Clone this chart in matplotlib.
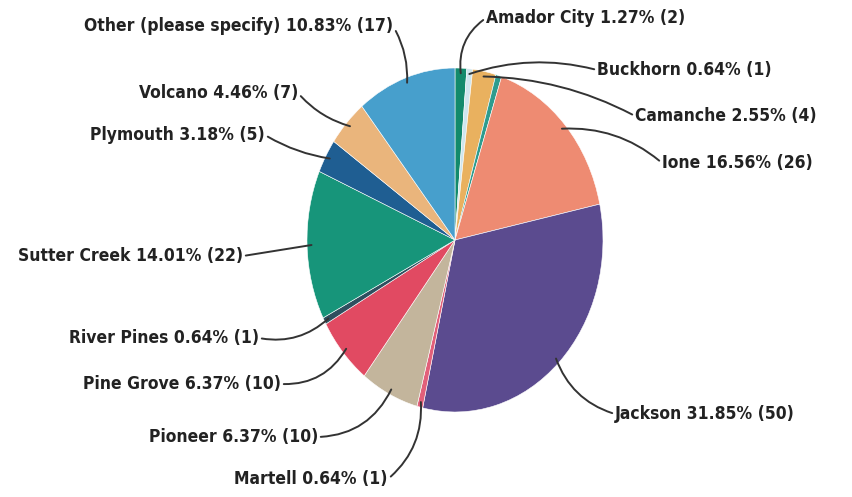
import numpy as np
import matplotlib.pyplot as plt
from matplotlib import font_manager

# data (clockwise from 12 o'clock); one unlabeled response sits between Camanche and Ione
towns = ['Amador City', 'Buckhorn', 'Camanche', '', 'Ione', 'Jackson', 'Martell',
         'Pioneer', 'Pine Grove', 'River Pines', 'Sutter Creek', 'Plymouth',
         'Volcano', 'Other (please specify)']
counts = [2, 1, 4, 1, 26, 50, 1, 10, 10, 1, 22, 5, 7, 17]
colors = ['#138a6c', '#cfe6ee', '#e9b15f', '#2e9c8e', '#ee8b72', '#5b4b8f', '#e2607a',
          '#c3b59c', '#e14a62', '#2f4f5f', '#17957a', '#1f5e92', '#eab57c', '#479fcc']

total = sum(counts)

# label layout in pixels (text anchor x, y, alignment, curve of leader)
label_pos = {
    'Amador City': (486, 18, 'left', 0.3),
    'Buckhorn': (597, 70, 'left', 0.15),
    'Camanche': (635, 116, 'left', 0.12),
    'Ione': (662, 163, 'left', 0.2),
    'Jackson': (615, 414, 'left', -0.25),
    'Martell': (388, 479, 'right', 0.25),
    'Pioneer': (318, 437, 'right', 0.3),
    'Pine Grove': (281, 384, 'right', 0.3),
    'River Pines': (259, 338, 'right', 0.25),
    'Sutter Creek': (243, 256, 'right', 0.0),
    'Plymouth': (265, 135, 'right', 0.1),
    'Volcano': (298, 93, 'right', 0.15),
    'Other (please specify)': (393, 26, 'right', -0.15),
}

W, H = 853, 497
cx, cy, rx, ry = 455, 240, 148, 172


def px(x, y):
    return ((x - cx) / rx, (cy - y) / ry)


# look for a narrow bold face, otherwise fall back to Roboto
narrow = None
for f in font_manager.fontManager.ttflist:
    if ('Condensed' in f.name or 'Narrow' in f.name or f.stretch in ('condensed', 'semi-condensed')) \
            and f.weight in ('bold', 700, 600, 'semibold'):
        narrow = f
        break
if narrow is not None:
    font = dict(fontproperties=font_manager.FontProperties(fname=narrow.fname, size=12.5))
else:
    font = dict(family=['Roboto', 'DejaVu Sans'], fontweight='bold', fontsize=12)

fig = plt.figure(figsize=(W / 100, H / 100), dpi=100)
ax = fig.add_axes([0, 0, 1, 1])
ax.pie(counts, colors=colors, startangle=90, counterclock=False, radius=1,
       wedgeprops=dict(edgecolor='white', linewidth=0.4))
ax.set_aspect('auto')
ax.set_xlim(px(0, 0)[0], px(W, 0)[0])
ax.set_ylim(px(0, H)[1], px(0, 0)[1])
ax.axis('off')

cum = 0
for name, n in zip(towns, counts):
    mid = 90 - 360 * (cum + n / 2) / total
    cum += n
    if not name:
        continue
    tx, ty, ha, rad = label_pos[name]
    pct = n / 157 * 100
    text = f'{name} {pct:.2f}% ({n})'
    t = np.deg2rad(mid)
    edge = (0.97 * np.cos(t), 0.97 * np.sin(t))
    ax.annotate(text, xy=edge, xytext=px(tx, ty), ha=ha, va='center', color='#222222', **font,
                arrowprops=dict(arrowstyle='-', color='#333333', lw=1.4,
                                shrinkA=0, shrinkB=0, relpos=(1 if ha == 'right' else 0, 0.5),
                                connectionstyle=f'arc3,rad={rad}'))

fig.savefig('out.png', dpi=100)
